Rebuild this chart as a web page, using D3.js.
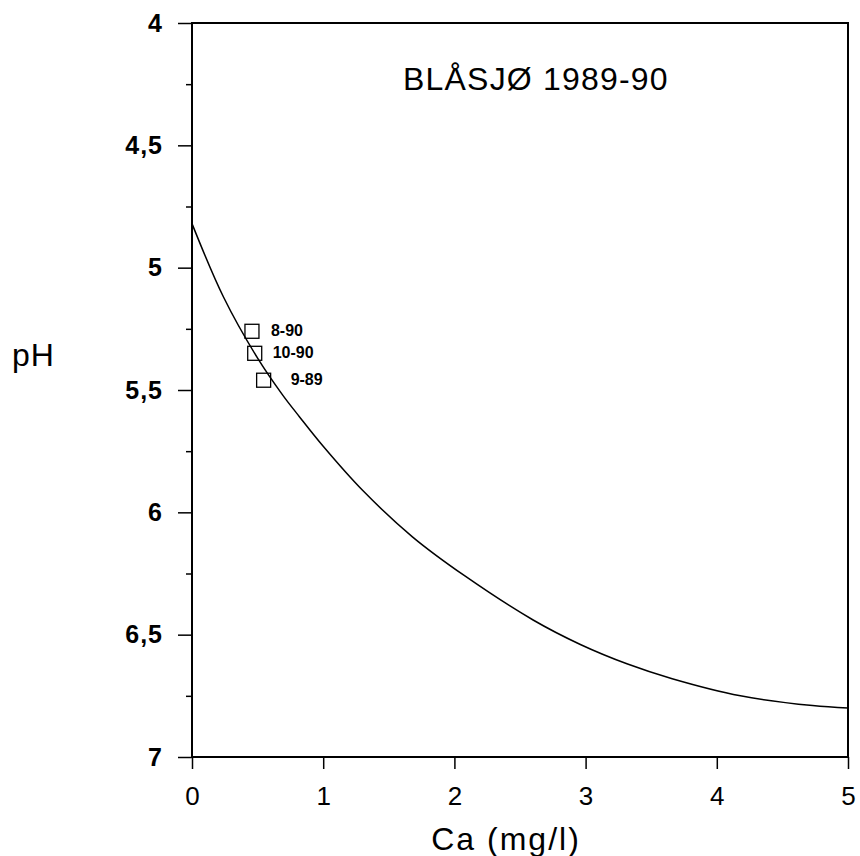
<!DOCTYPE html>
<html>
<head>
<meta charset="utf-8">
<script src="https://cdn.jsdelivr.net/npm/d3@7"></script>
<style>
  body { margin: 0; background: #fff; }
  text { font-family: "Liberation Sans", Arial, Helvetica, sans-serif; fill: #000; }
</style>
</head>
<body>
<div id="chart"></div>
<script>
// curve (Ca mg/l, pH)
const curveCa = [0, 0.24, 0.5, 0.69, 0.82, 1.0, 1.3, 1.68, 2.08, 2.6, 2.96, 3.32, 3.66, 4.18, 4.73, 5.0];
const curvePH = [4.82, 5.12, 5.37, 5.52, 5.61, 5.73, 5.91, 6.10, 6.26, 6.44, 6.54, 6.62, 6.68, 6.75, 6.79, 6.80];

// samples
const sampleLabels = ["8-90", "10-90", "9-89"];
const sampleCa = [0.457, 0.478, 0.546];
const samplePH = [5.26, 5.35, 5.46];

const xTicks = [0, 1, 2, 3, 4, 5];
const yTicks = [4, 4.5, 5, 5.5, 6, 6.5, 7];
const yMinor = [4.25, 4.75, 5.25, 5.75, 6.25, 6.75];

const width = 860,
      height = 856,
      margin = ({ top: 23, right: 12, bottom: 99, left: 192 });

let svg = d3.select("#chart")
    .append("svg")
    .attr("width", width)
    .attr("height", height);

let x = d3.scaleLinear()
    .domain([0, 5])
    .range([margin.left, width - margin.right]);

let y = d3.scaleLinear()
    .domain([4, 7])
    .range([margin.top, height - margin.bottom]);

// frame
svg.append("rect")
    .attr("x", x(0))
    .attr("y", y(4))
    .attr("width", x(5) - x(0))
    .attr("height", y(7) - y(4))
    .attr("fill", "none")
    .attr("stroke", "#000")
    .attr("stroke-width", 2);

let fmt = d => String(d).replace(".", ",");

let yAxis = svg.append("g")
    .attr("transform", `translate(${x(0)},0)`)
    .call(d3.axisLeft(y).tickValues(yTicks).tickFormat(fmt).tickSize(14).tickPadding(15));
yAxis.selectAll("text")
    .style("font-size", "25px")
    .style("font-weight", "bold")
    .style("letter-spacing", "1px");

svg.append("g")
    .attr("transform", `translate(${x(0)},0)`)
    .call(d3.axisLeft(y).tickValues(yMinor).tickFormat("").tickSize(6));

let xAxis = svg.append("g")
    .attr("transform", `translate(0,${y(7)})`)
    .call(d3.axisBottom(x).tickValues(xTicks).tickFormat(d3.format("d")).tickSize(12).tickPadding(18));
xAxis.selectAll("text")
    .style("font-size", "26px");

svg.selectAll(".domain").remove();
svg.selectAll(".tick line").attr("stroke", "#000").attr("stroke-width", 1.5);

// curve
let curve = curveCa.map((c, i) => [c, curvePH[i]]);
svg.append("path")
    .datum(curve)
    .attr("fill", "none")
    .attr("stroke", "#000")
    .attr("stroke-width", 1.5)
    .attr("d", d3.line()
        .x(d => x(d[0]))
        .y(d => y(d[1]))
        .curve(d3.curveCatmullRom));

// samples
let samples = sampleLabels.map((l, i) => ({ label: l, ca: sampleCa[i], ph: samplePH[i] }));
let pt = svg.selectAll(".pt")
    .data(samples)
    .join("g")
    .attr("class", "pt");

pt.append("rect")
    .attr("x", d => x(d.ca) - 7)
    .attr("y", d => y(d.ph) - 7)
    .attr("width", 14)
    .attr("height", 14)
    .attr("fill", "none")
    .attr("stroke", "#000")
    .attr("stroke-width", 1.3);

const labelDx = [19, 18, 27];
pt.append("text")
    .attr("x", (d, i) => x(d.ca) + labelDx[i])
    .attr("y", d => y(d.ph) + 5)
    .style("font-size", "16px")
    .style("font-weight", "bold")
    .text(d => d.label);

// title
svg.append("text")
    .attr("x", 403)
    .attr("y", 90)
    .style("font-size", "32px")
    .style("letter-spacing", "1.2px")
    .text("BLÅSJØ 1989-90");

// axis titles
svg.append("text")
    .attr("x", 506)
    .attr("y", 850)
    .attr("text-anchor", "middle")
    .style("font-size", "32px")
    .style("letter-spacing", "2px")
    .text("Ca (mg/l)");

svg.append("text")
    .attr("x", 12)
    .attr("y", 366)
    .style("font-size", "32px")
    .style("letter-spacing", "1px")
    .text("pH");
</script>
</body>
</html>
